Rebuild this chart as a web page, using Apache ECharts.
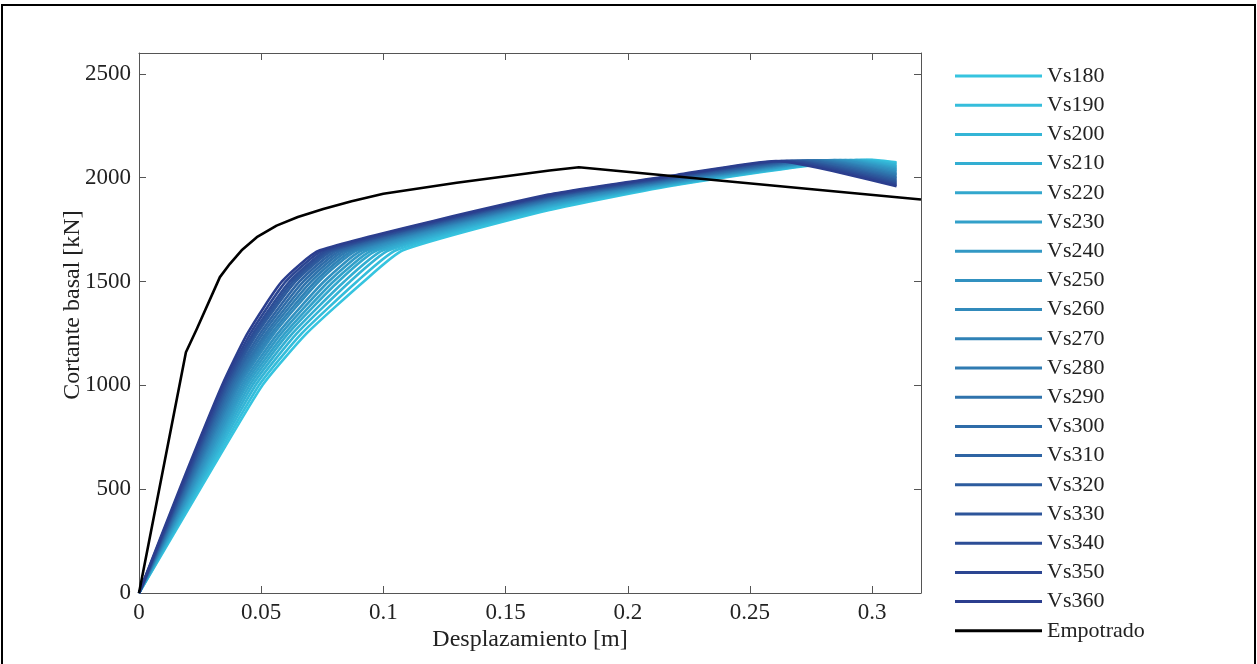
<!DOCTYPE html>
<html>
<head>
<meta charset="utf-8">
<script src="https://cdn.jsdelivr.net/npm/echarts@6/dist/echarts.min.js"></script>
<style>
html,body{margin:0;padding:0;background:#fff;}
#chart{width:1257px;height:664px;}
</style>
</head>
<body>
<div id="chart"></div>
<script>
// ---- data: [displacement (m), base shear (kN)] ----
const vs180 = [[0,0],[0.0250,500],[0.0505,1000],[0.0686,1250],[0.0920,1500],[0.1080,1650],[0.1675,1843],[0.22,1965],[0.3000,2086],[0.31,2074]];
const vs190 = [[0,0],[0.0243,500],[0.0491,1000],[0.0666,1250],[0.0892,1500],[0.1052,1650],[0.1675,1849],[0.22,1968],[0.2978,2086],[0.31,2068]];
const vs200 = [[0,0],[0.0236,500],[0.0477,1000],[0.0646,1250],[0.0864,1500],[0.1023,1650],[0.1675,1856],[0.22,1970],[0.2956,2085],[0.31,2062]];
const vs210 = [[0,0],[0.0230,500],[0.0464,1000],[0.0628,1250],[0.0840,1500],[0.0999,1650],[0.1675,1861],[0.22,1973],[0.2935,2085],[0.31,2055]];
const vs220 = [[0,0],[0.0224,500],[0.0452,1000],[0.0611,1250],[0.0816,1500],[0.0975,1650],[0.1675,1866],[0.22,1976],[0.2913,2085],[0.31,2048]];
const vs230 = [[0,0],[0.0219,500],[0.0441,1000],[0.0597,1250],[0.0796,1500],[0.0955,1650],[0.1675,1871],[0.22,1978],[0.2891,2084],[0.31,2042]];
const vs240 = [[0,0],[0.0214,500],[0.0431,1000],[0.0582,1250],[0.0776,1500],[0.0934,1650],[0.1675,1875],[0.22,1981],[0.2869,2084],[0.31,2036]];
const vs250 = [[0,0],[0.0209,500],[0.0421,1000],[0.0568,1250],[0.0757,1500],[0.0914,1650],[0.1675,1880],[0.22,1984],[0.2847,2084],[0.31,2029]];
const vs260 = [[0,0],[0.0204,500],[0.0411,1000],[0.0553,1250],[0.0736,1500],[0.0894,1650],[0.1675,1884],[0.22,1986],[0.2825,2083],[0.31,2022]];
const vs270 = [[0,0],[0.0200,500],[0.0402,1000],[0.0542,1250],[0.0721,1500],[0.0878,1650],[0.1675,1888],[0.22,1989],[0.2804,2083],[0.31,2016]];
const vs280 = [[0,0],[0.0196,500],[0.0394,1000],[0.0530,1250],[0.0705,1500],[0.0861,1650],[0.1675,1891],[0.22,1992],[0.2782,2083],[0.31,2010]];
const vs290 = [[0,0],[0.0192,500],[0.0386,1000],[0.0519,1250],[0.0689,1500],[0.0845,1650],[0.1675,1895],[0.22,1994],[0.2760,2082],[0.31,2003]];
const vs300 = [[0,0],[0.0188,500],[0.0378,1000],[0.0507,1250],[0.0673,1500],[0.0829,1650],[0.1675,1898],[0.22,1997],[0.2738,2082],[0.31,1997]];
const vs310 = [[0,0],[0.0184,500],[0.0371,1000],[0.0496,1250],[0.0657,1500],[0.0813,1650],[0.1675,1902],[0.22,2000],[0.2716,2082],[0.31,1990]];
const vs320 = [[0,0],[0.0180,500],[0.0364,1000],[0.0484,1250],[0.0641,1500],[0.0797,1650],[0.1675,1905],[0.22,2002],[0.2694,2081],[0.31,1984]];
const vs330 = [[0,0],[0.0177,500],[0.0358,1000],[0.0476,1250],[0.0629,1500],[0.0785,1650],[0.1675,1908],[0.22,2005],[0.2673,2081],[0.31,1977]];
const vs340 = [[0,0],[0.0174,500],[0.0352,1000],[0.0467,1250],[0.0617,1500],[0.0772,1650],[0.1675,1911],[0.22,2008],[0.2651,2081],[0.31,1971]];
const vs350 = [[0,0],[0.0170,500],[0.0346,1000],[0.0456,1250],[0.0601,1500],[0.0756,1650],[0.1675,1914],[0.22,2010],[0.2629,2080],[0.31,1964]];
const vs360 = [[0,0],[0.0166,500],[0.0340,1000],[0.0444,1250],[0.0585,1500],[0.0740,1650],[0.1675,1918],[0.22,2013],[0.2607,2080],[0.31,1958]];
const empotrado = [[0,0],[0.0192,1159],[0.0236,1270],[0.0331,1521],[0.0372,1585],[0.042,1650],[0.0482,1713],[0.0563,1769],[0.065,1810],[0.0754,1849],[0.087,1886],[0.1,1922],[0.13,1975],[0.168,2034],[0.180,2050],[0.245,1978],[0.32,1895]];

const vsNames = ['Vs180','Vs190','Vs200','Vs210','Vs220','Vs230','Vs240','Vs250','Vs260','Vs270','Vs280','Vs290','Vs300','Vs310','Vs320','Vs330','Vs340','Vs350','Vs360'];
const vsData = [vs180,vs190,vs200,vs210,vs220,vs230,vs240,vs250,vs260,vs270,vs280,vs290,vs300,vs310,vs320,vs330,vs340,vs350,vs360];
const xTicks = [0, 0.05, 0.1, 0.15, 0.2, 0.25, 0.3];
const yTicks = [0, 500, 1000, 1500, 2000, 2500];

// ---- styles ----
const vsColors = ['#36c4df','#35bddb','#34b5d6','#33aed2','#33a7cd','#32a0c9','#3298c4','#3191c0','#318abb','#3082b6','#2f7bb1','#2f73ac','#2e6ca8','#2e64a3','#2d5c9e','#2d559a','#2c4d96','#2c4692','#2b3e8e'];
const FONT = '"Liberation Serif", "Times New Roman", serif';

const series = vsNames.map((n, i) => ({
  name: n, type: 'line', data: vsData[i], xAxisIndex: 0, yAxisIndex: 0,
  symbol: 'none', showSymbol: false, smooth: 0.18,
  lineStyle: { width: 2.6, color: vsColors[i] }, itemStyle: { color: vsColors[i] },
  silent: true, z: 2
}));
series.push({
  name: 'Empotrado', type: 'line', data: empotrado, xAxisIndex: 0, yAxisIndex: 0,
  symbol: 'none', showSymbol: false,
  lineStyle: { width: 2.6, color: '#000', join: 'round' }, itemStyle: { color: '#000' },
  silent: true, z: 3
});

const axisCommon = {
  axisLine: { show: true, onZero: false, lineStyle: { color: '#555', width: 1 } },
  axisTick: { show: true, inside: true, length: 7, lineStyle: { color: '#555', width: 1 } },
  splitLine: { show: false }
};

const option = {
  animation: false,
  backgroundColor: '#fff',
  grid: { left: 139, right: 336, top: 53, bottom: 71, containLabel: false },
  xAxis: [
    Object.assign({ type: 'value', min: 0, max: 0.32, interval: 0.05, position: 'bottom',
      axisLabel: { color: '#222', fontFamily: FONT, fontSize: 23, margin: 8, showMaxLabel: false,
        formatter: v => xTicks.some(t => Math.abs(t - v) < 1e-9) ? String(+v.toFixed(2)) : '' } }, axisCommon),
    Object.assign({ type: 'value', min: 0, max: 0.32, interval: 0.05, position: 'top',
      axisLabel: { show: false } }, axisCommon)
  ],
  yAxis: [
    Object.assign({ type: 'value', min: 0, max: 2600, interval: 500, position: 'left',
      axisLabel: { color: '#222', fontFamily: FONT, fontSize: 23, margin: 8, showMaxLabel: false,
        formatter: v => yTicks.indexOf(v) >= 0 ? String(v) : '' } }, axisCommon),
    Object.assign({ type: 'value', min: 0, max: 2600, interval: 500, position: 'right',
      axisLabel: { show: false } }, axisCommon)
  ],
  legend: {
    orient: 'vertical', left: 955, top: 65, padding: 0,
    itemWidth: 87, itemHeight: 3, itemGap: 7.2, icon: 'rect',
    data: vsNames.concat(['Empotrado']),
    textStyle: { fontFamily: FONT, fontSize: 22, lineHeight: 22, color: '#222' },
    selectedMode: false
  },
  graphic: [
    { type: 'rect', shape: { x: 2, y: 5, width: 1253, height: 700 }, style: { fill: 'none', stroke: '#000', lineWidth: 2 }, silent: true },
    { type: 'text', x: 530, y: 640, style: { text: 'Desplazamiento [m]', font: '24px ' + FONT, fill: '#222', align: 'center', verticalAlign: 'middle' } },
    { type: 'text', x: 73, y: 305, rotation: Math.PI / 2, style: { text: 'Cortante basal [kN]', font: '24px ' + FONT, fill: '#222', align: 'center', verticalAlign: 'middle' } }
  ],
  series: series
};

const chart = echarts.init(document.getElementById('chart'), null, { renderer: 'canvas' });
chart.setOption(option);
</script>
</body>
</html>
